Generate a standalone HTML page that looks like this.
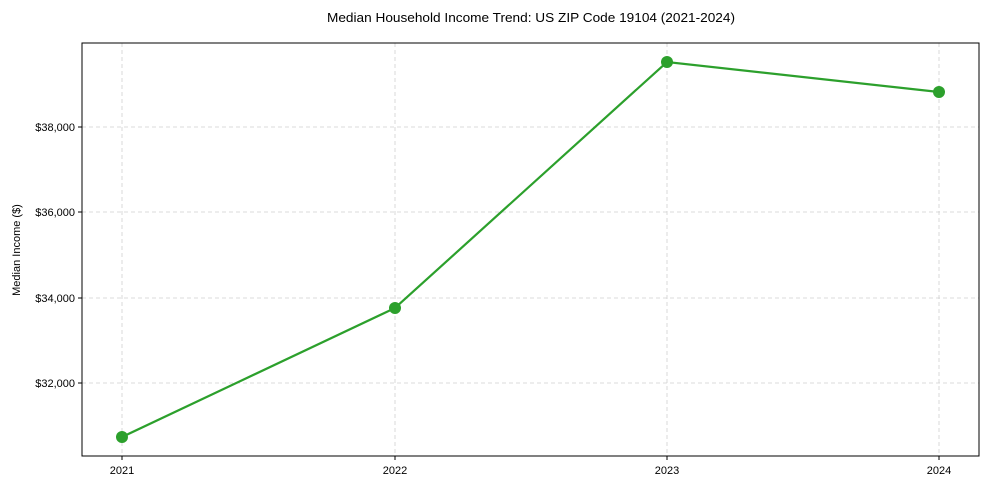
<!DOCTYPE html>
<html><head><meta charset="utf-8"><style>body{margin:0;background:#fff}svg{display:block}text{font-family:"Liberation Sans",sans-serif;fill:#000}</style></head><body>
<svg width="989" height="490" viewBox="0 0 989 490">
<rect width="989" height="490" fill="#fff"/>
<g stroke="#d0d0d0" stroke-dasharray="4,3" stroke-width="0.8">
<line x1="122" y1="43" x2="122" y2="456"/><line x1="395" y1="43" x2="395" y2="456"/><line x1="667" y1="43" x2="667" y2="456"/><line x1="939" y1="43" x2="939" y2="456"/>
<line x1="82" y1="127" x2="979" y2="127"/><line x1="82" y1="212" x2="979" y2="212"/><line x1="82" y1="298" x2="979" y2="298"/><line x1="82" y1="383" x2="979" y2="383"/>
</g>
<rect x="82" y="43" width="897" height="413" fill="none" stroke="#000" stroke-width="1"/>
<g stroke="#000"><line x1="78" y1="127" x2="82" y2="127"/><line x1="78" y1="212" x2="82" y2="212"/><line x1="78" y1="298" x2="82" y2="298"/><line x1="78" y1="383" x2="82" y2="383"/>
<line x1="122" y1="456" x2="122" y2="460"/><line x1="395" y1="456" x2="395" y2="460"/><line x1="667" y1="456" x2="667" y2="460"/><line x1="939" y1="456" x2="939" y2="460"/></g>
<g font-size="11" text-anchor="end"><text x="75" y="131">$38,000</text><text x="75" y="216">$36,000</text><text x="75" y="302">$34,000</text><text x="75" y="387">$32,000</text></g>
<g font-size="11" text-anchor="middle"><text x="122" y="474">2021</text><text x="395" y="474">2022</text><text x="667" y="474">2023</text><text x="939" y="474">2024</text></g>
<text x="531" y="22" font-size="13" text-anchor="middle" textLength="408" lengthAdjust="spacingAndGlyphs">Median Household Income Trend: US ZIP Code 19104 (2021-2024)</text>
<text transform="translate(20,250) rotate(-90)" font-size="11" text-anchor="middle">Median Income ($)</text>
<polyline points="122,437 395,308 667,62 939,92" fill="none" stroke="#2ca02c" stroke-width="2.2"/>
<g fill="#2ca02c"><circle cx="122" cy="437" r="6"/><circle cx="395" cy="308" r="6"/><circle cx="667" cy="62" r="6"/><circle cx="939" cy="92" r="6"/></g>
</svg></body></html>
